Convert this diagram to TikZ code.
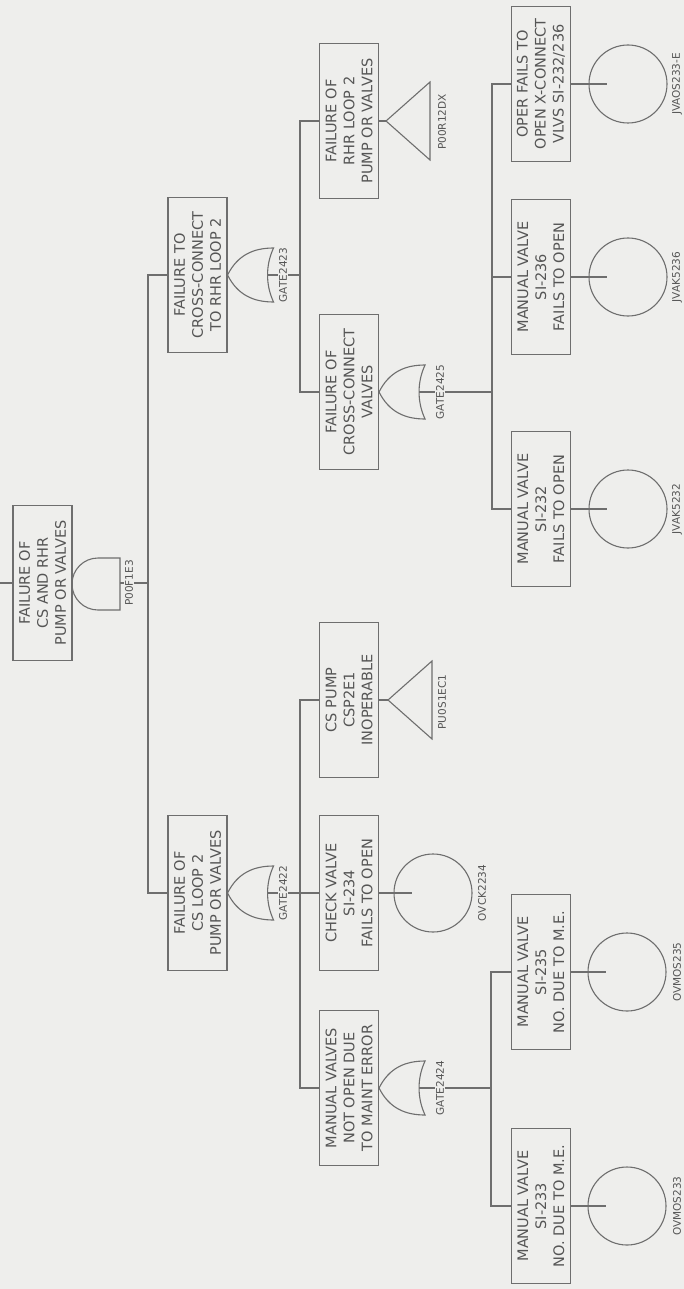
\documentclass[tikz,border=0pt]{standalone}
\usepackage{fontspec}
\setmainfont{DejaVu Sans}
\definecolor{paper}{RGB}{238,238,236}
\definecolor{ink}{RGB}{110,110,110}
\definecolor{txt}{RGB}{85,85,85}
\tikzset{
  ln/.style={draw=ink, line width=1.1pt},
  evbox/.style={draw=ink, line width=1.1pt, rectangle, rotate=90, minimum width=155pt, minimum height=59pt, inner sep=1pt, align=center, text=txt, font=\fontsize{14.5}{18}\selectfont},
  evcirc/.style={draw=ink, line width=1.1pt, circle, minimum size=78pt, inner sep=0pt},
  lbl/.style={rotate=90, text=txt, font=\fontsize{10.5}{11}\selectfont, fill=paper, inner sep=1pt},
  orgate/.pic={\draw[ink, line width=1.1pt] (0,0) .. controls (10,-20) and (26,-27) .. (46,-27) .. controls (38,-10) and (38,10) .. (46,27) .. controls (26,27) and (10,20) .. cycle;},
  xfer/.pic={\draw[ink, line width=1.1pt] (0,0) -- (44,-39) -- (44,39) -- cycle;}
}
\begin{document}
\begin{tikzpicture}[x=1pt,y=-1pt]
\fill[paper] (0,0) rectangle (684,1289);
\useasboundingbox (0,0) rectangle (684,1289);

% ---------- boxes ----------
\node[evbox] (b1) at (42.5,583) {FAILURE OF\\CS AND RHR\\PUMP OR VALVES};
\node[evbox] (b2) at (197.5,275) {FAILURE TO\\CROSS-CONNECT\\TO RHR LOOP 2};
\node[evbox] (b3) at (197.5,893) {FAILURE OF\\CS LOOP 2\\PUMP OR VALVES};
\node[evbox] (b4) at (349,392) {FAILURE OF\\CROSS-CONNECT\\VALVES};
\node[evbox] (b5) at (349,121) {FAILURE OF\\RHR LOOP 2\\PUMP OR VALVES};
\node[evbox] (b6) at (349,700) {CS PUMP\\CSP2E1\\INOPERABLE};
\node[evbox] (b7) at (349,893) {CHECK VALVE\\SI-234\\FAILS TO OPEN};
\node[evbox] (b8) at (349,1088) {MANUAL VALVES\\NOT OPEN DUE\\TO MAINT ERROR};
\node[evbox] (b9) at (541,509) {MANUAL VALVE\\SI-232\\FAILS TO OPEN};
\node[evbox] (b10) at (541,277) {MANUAL VALVE\\SI-236\\FAILS TO OPEN};
\node[evbox] (b11) at (541,84) {OPER FAILS TO\\OPEN X-CONNECT\\VLVS SI-232/236};
\node[evbox] (b12) at (541,972) {MANUAL VALVE\\SI-235\\NO. DUE TO M.E.};
\node[evbox] (b13) at (541,1206) {MANUAL VALVE\\SI-233\\NO. DUE TO M.E.};

% ---------- basic events ----------
\node[evcirc] (c7) at (433,893) {};
\node[evcirc] (c9) at (628,509) {};
\node[evcirc] (c10) at (628,277) {};
\node[evcirc] (c11) at (628,84) {};
\node[evcirc] (c12) at (627,972) {};
\node[evcirc] (c13) at (627,1206) {};

% ---------- top AND gate ----------
\draw[ln] (98,558) .. controls (83.6,558) and (72,569.6) .. (72,584) .. controls (72,598.4) and (83.6,610) .. (98,610) -- (120,610) -- (120,558) -- cycle;
\coordinate (topout) at (0,583);
\coordinate (andin) at (120,583);
\coordinate (j1) at (148,583);
\draw[ln] (topout) -- (b1.north);
\draw[ln] (andin) -- (j1);
\draw[ln] (j1) |- (b2.north);
\draw[ln] (j1) |- (b3.north);

% ---------- GATE2423 ----------
\pic at (b2.south) {orgate};
\coordinate (g23) at ([xshift=40pt]b2.south);
\coordinate (j23) at (300,275);
\draw[ln] (g23) -- (j23);
\draw[ln] (j23) |- (b4.north);
\draw[ln] (j23) |- (b5.north);

% ---------- GATE2422 ----------
\pic at (b3.south) {orgate};
\coordinate (g22) at ([xshift=40pt]b3.south);
\coordinate (j22) at (300,893);
\draw[ln] (g22) -- (j22);
\draw[ln] (j22) |- (b6.north);
\draw[ln] (j22) -- (b7.north);
\draw[ln] (j22) |- (b8.north);

% ---------- GATE2425 ----------
\pic at (b4.south) {orgate};
\coordinate (g25) at ([xshift=40pt]b4.south);
\coordinate (j25) at (492,392);
\draw[ln] (g25) -- (j25);
\draw[ln] (j25) |- (b9.north);
\draw[ln] (j25) |- (b10.north);
\draw[ln] (j25) |- (b11.north);

% ---------- GATE2424 ----------
\pic at (b8.south) {orgate};
\coordinate (g24) at ([xshift=40pt]b8.south);
\coordinate (j24) at (491,1088);
\draw[ln] (g24) -- (j24);
\draw[ln] (j24) |- (b12.north);
\draw[ln] (j24) |- (b13.north);

% ---------- transfers ----------
\coordinate (t5) at (386,121);
\coordinate (t6) at (388,700);
\draw[ln] (b5.south) -- (t5);
\draw[ln] (b6.south) -- (t6);
\pic at (t5) {xfer};
\pic at (t6) {xfer};

% ---------- event stems ----------
\draw[ln] (b7.south) -- ([xshift=19pt]c7.west);
\draw[ln] (b9.south) -- ([xshift=19pt]c9.west);
\draw[ln] (b10.south) -- ([xshift=19pt]c10.west);
\draw[ln] (b11.south) -- ([xshift=19pt]c11.west);
\draw[ln] (b12.south) -- ([xshift=19pt]c12.west);
\draw[ln] (b13.south) -- ([xshift=19pt]c13.west);

% ---------- labels ----------
\node[lbl] (l1) at (129,583) {P00F1E3};
\node[lbl] (l23) at (283,275) {GATE2423};
\node[lbl] (l22) at (283,893) {GATE2422};
\node[lbl] (l25) at (440,392) {GATE2425};
\node[lbl] (l24) at (440,1088) {GATE2424};
\node[lbl] (l5) at (442,122) {P00R12DX};
\node[lbl] (l6) at (442,702) {PU0S1EC1};
\node[lbl] (l7) at (482,893) {OVCK2234};
\node[lbl] (l9) at (677,509) {JVAK5232};
\node[lbl] (l10) at (677,277) {JVAK5236};
\node[lbl] (l11) at (677,84) {JVAOS233-E};
\node[lbl] (l12) at (677,972) {OVMOS235};
\node[lbl] (l13) at (677,1206) {OVMOS233};
\end{tikzpicture}
\end{document}
